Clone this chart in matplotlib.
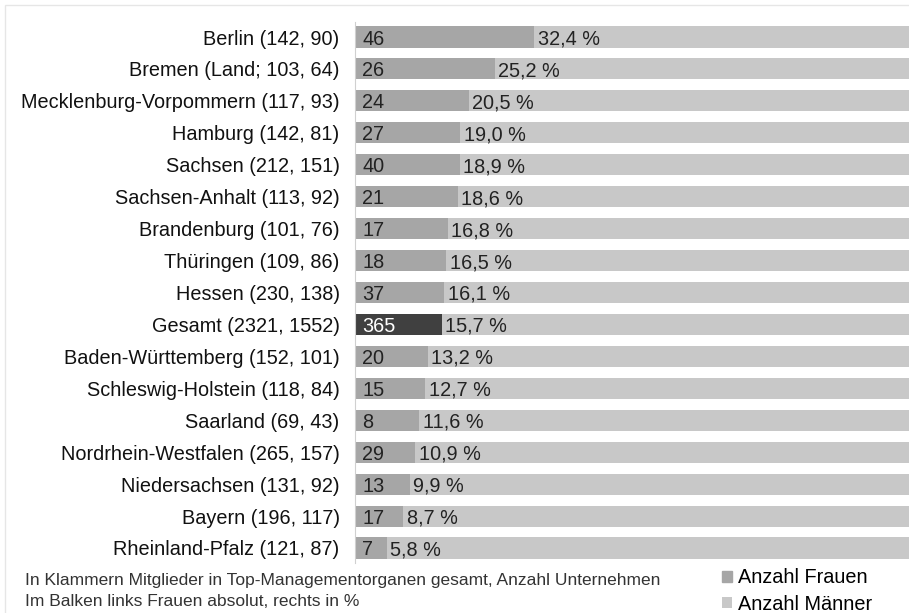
import matplotlib
matplotlib.use("Agg")
import matplotlib.pyplot as plt
from matplotlib.patches import Rectangle

plt.rcParams['font.family'] = ['Liberation Sans', 'DejaVu Sans']

categories = ["Berlin (142, 90)", "Bremen (Land; 103, 64)", "Mecklenburg-Vorpommern (117, 93)",
              "Hamburg (142, 81)", "Sachsen (212, 151)", "Sachsen-Anhalt (113, 92)",
              "Brandenburg (101, 76)", "Thüringen (109, 86)", "Hessen (230, 138)",
              "Gesamt (2321, 1552)", "Baden-Württemberg (152, 101)", "Schleswig-Holstein (118, 84)",
              "Saarland (69, 43)", "Nordrhein-Westfalen (265, 157)", "Niedersachsen (131, 92)",
              "Bayern (196, 117)", "Rheinland-Pfalz (121, 87)"]
women_abs = [46, 26, 24, 27, 40, 21, 17, 18, 37, 365, 20, 15, 8, 29, 13, 17, 7]
women_pct = [32.4, 25.2, 20.5, 19.0, 18.9, 18.6, 16.8, 16.5, 16.1, 15.7, 13.2, 12.7, 11.6, 10.9, 9.9, 8.7, 5.8]
men_pct = [100 - p for p in women_pct]
highlight = "Gesamt (2321, 1552)"

W, H = 909, 613
fig = plt.figure(figsize=(W/100, H/100), dpi=100)
ax = fig.add_axes([355/W, 50/H, (W-355)/W, (563-22)/H])

c_women = "#a6a6a6"
c_women_hl = "#404040"
c_men = "#c8c8c8"
fs = 14.3
ypos = list(range(len(categories)))
wcolors = [c_women_hl if c == highlight else c_women for c in categories]
ax.barh(ypos, women_pct, height=0.66, color=wcolors, label="Anzahl Frauen")
ax.barh(ypos, men_pct, left=women_pct, height=0.66, color=c_men, label="Anzahl Männer")

ax.set_xlim(0, 100)
ax.set_ylim(16.47, -0.47)
ax.set_yticks(ypos)
ax.set_yticklabels(categories, fontsize=fs, color="#111111")
ax.tick_params(axis='y', length=0, pad=11)
ax.set_xticks([])
for s in ["top", "right", "bottom"]:
    ax.spines[s].set_visible(False)
ax.spines["left"].set_color("#d0d0d0")

for i, (n, p, c) in enumerate(zip(women_abs, women_pct, categories)):
    ax.text(1.3, i, str(n), va='center_baseline', ha='left', fontsize=fs,
            color="white" if c == highlight else "#222222")
    ax.text(p + 0.6, i, f"{p:.1f} %".replace('.', ','), va='center_baseline', ha='left',
            fontsize=fs, color="#222222")

fig.text(25/W, 1 - 580/H, "In Klammern Mitglieder in Top-Managementorganen gesamt, Anzahl Unternehmen",
         fontsize=12.5, color="#333333", va='center')
fig.text(25/W, 1 - 602/H, "Im Balken links Frauen absolut, rechts in %",
         fontsize=12.5, color="#333333", va='center')

handles, labels = ax.get_legend_handles_labels()
handles[0] = Rectangle((0, 0), 1, 1, color=c_women)
fig.legend(handles, labels, loc='center left', bbox_to_anchor=(712/W, 1 - 591/H),
           frameon=False, fontsize=14.3, handlelength=0.5, handleheight=0.5,
           handletextpad=0.3, labelspacing=0.38, borderpad=0)

fig.patches.append(Rectangle((5/W, -0.1), 1.2, 1 - 5/H + 0.1, transform=fig.transFigure,
                             fill=False, edgecolor="#e6e6e6", linewidth=1))

fig.savefig("out.png", dpi=100)
